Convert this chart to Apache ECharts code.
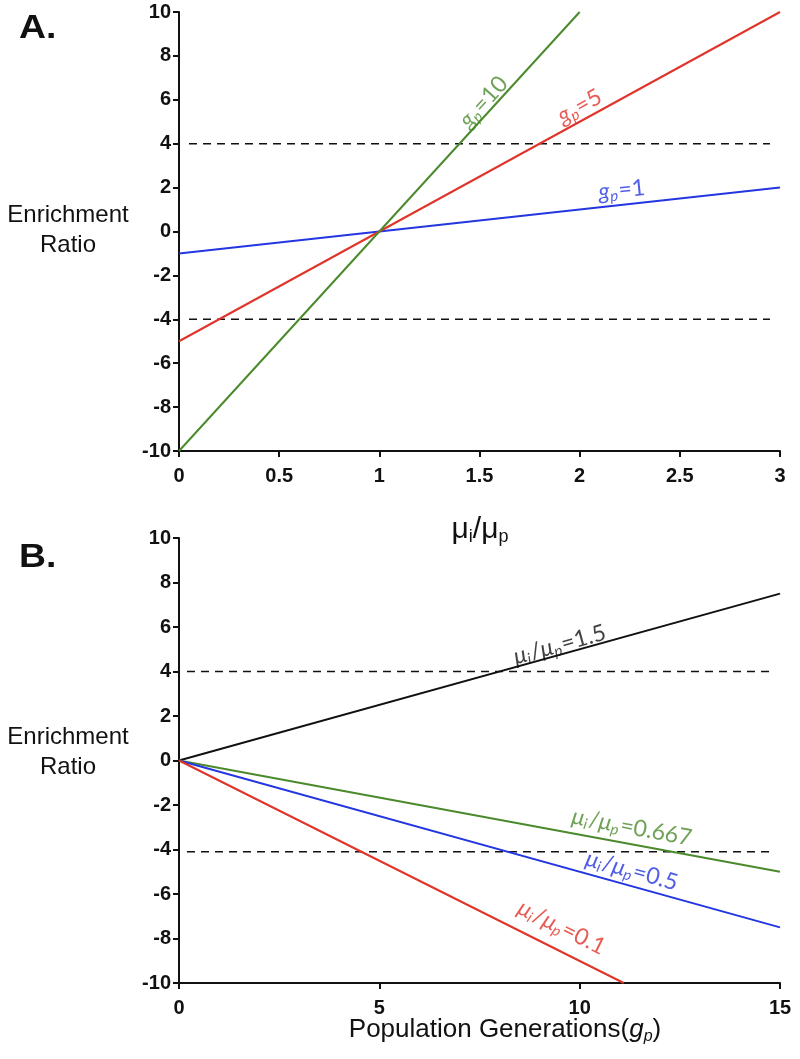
<!DOCTYPE html>
<html>
<head>
<meta charset="utf-8">
<script src="https://cdn.jsdelivr.net/npm/echarts@6/dist/echarts.min.js"></script>
<style>html,body{margin:0;padding:0;background:#fff}#c{width:800px;height:1059px}</style>
</head>
<body>
<div id="c"></div>
<script>
// ---- Panel A data: x = mu_i/mu_p, y = enrichment ratio ----
const xTicksA = [0, 0.5, 1, 1.5, 2, 2.5, 3];
const yTicks = [-10, -8, -6, -4, -2, 0, 2, 4, 6, 8, 10];
const seriesA_g1 = [[0, -1], [3, 2]];
const seriesA_g5 = [[0, -5], [3, 10]];
const seriesA_g10 = [[0, -10], [2, 10]];
const dashA_upper = [[0.05, 4], [2.95, 4]];
const dashA_lower = [[0.05, -4], [2.95, -4]];
const labelsA = ['g_p=1', 'g_p=5', 'g_p=10'];
const labelAnchorA = [[2.21, 1.9], [2.0, 5.7], [1.52, 5.9]];

// ---- Panel B data: x = population generations, y = enrichment ratio ----
const xTicksB = [0, 5, 10, 15];
const seriesB_r15 = [[0, 0], [15, 7.5]];
const seriesB_r0667 = [[0, 0], [15, -5]];
const seriesB_r05 = [[0, 0], [15, -7.5]];
const seriesB_r01 = [[0, 0], [11.1, -10]];
const dashB_upper = [[0.2, 4], [14.8, 4]];
const dashB_lower = [[0.2, -4.1], [14.8, -4.1]];
const labelsB = ['1.5', '0.667', '0.5', '0.1'];
const labelAnchorB = [[9.5, 5.2], [11.3, -3.0], [11.3, -4.95], [9.55, -7.5]];

const GREEN = '#4b8a2c', RED = '#e0342a', BLUE = '#2436e0', BLACK = '#111';
const tickFont = {fontFamily: '"Liberation Sans", Arial', fontWeight: 'bold', fontSize: 20, color: '#111'};
const labFont = 'Lato, "Open Sans", sans-serif';

function gLabel(t) {
  const val = t.split('=')[1];
  return '{g|g}{s|p}{n|=' + val + '}';
}
function muLabel(v) {
  return '{m|μ}{s|i}{n|/}{m|μ}{s|p}{n|=' + v + '}';
}
function richFor(color, size) {
  return {
    g: {fontFamily: labFont, fontSize: size, color: color, fontStyle: 'italic'},
    m: {fontFamily: labFont, fontSize: size, color: color, fontStyle: 'italic'},
    n: {fontFamily: labFont, fontSize: size, color: color},
    s: {fontFamily: labFont, fontSize: Math.round(size * 0.65), color: color, fontStyle: 'italic', padding: [11, 1, 0, 0]}
  };
}

function lineSeries(data, color, xi, yi, dashed) {
  return {
    type: 'line', data: data, xAxisIndex: xi, yAxisIndex: yi,
    symbol: 'none', silent: true, animation: false,
    lineStyle: {color: color, width: dashed ? 1.6 : 2, type: dashed ? [8, 6] : 'solid'}
  };
}
function labelSeries(pt, text, color, rot, xi, yi, size) {
  return {
    type: 'scatter', data: [pt], xAxisIndex: xi, yAxisIndex: yi,
    symbolSize: 0, silent: true, animation: false,
    label: {show: true, position: 'inside', rotate: rot, formatter: text, rich: richFor(color, size)}
  };
}

function xAxisCfg(gi, max, interval) {
  return {
    type: 'value', gridIndex: gi, min: 0, max: max, interval: interval,
    axisLine: {onZero: false, lineStyle: {color: '#111', width: 2}},
    axisTick: {show: true, length: 6, lineStyle: {color: '#111', width: 2}},
    axisLabel: Object.assign({margin: 15}, tickFont),
    splitLine: {show: false}
  };
}
function yAxisCfg(gi) {
  return {
    type: 'value', gridIndex: gi, min: -10, max: 10, interval: 2,
    axisLine: {onZero: false, lineStyle: {color: '#111', width: 2}},
    axisTick: {show: true, length: 6, lineStyle: {color: '#111', width: 2}},
    axisLabel: Object.assign({margin: 8}, tickFont),
    splitLine: {show: false}
  };
}

function nameText(x, y, text, size) {
  return {type: 'text', x: x, y: y, style: {text: text, font: size + 'px "Liberation Sans", Arial', fill: '#111', align: 'center', verticalAlign: 'middle', lineHeight: 30}};
}

const chart = echarts.init(document.getElementById('c'), null, {renderer: 'canvas'});
const option = {
  backgroundColor: '#fff',
  animation: false,
  grid: [
    {left: 179, right: 20, top: 12, height: 439},
    {left: 179, right: 20, top: 538, height: 445}
  ],
  xAxis: [xAxisCfg(0, 3, 0.5), xAxisCfg(1, 15, 5)],
  yAxis: [yAxisCfg(0), yAxisCfg(1)],
  graphic: [
    {type: 'text', left: 19, top: 12, scaleX: 1.1, style: {text: 'A.', font: 'bold 34px "Liberation Sans", Arial', fill: '#111'}},
    {type: 'text', left: 19, top: 541, scaleX: 1.1, style: {text: 'B.', font: 'bold 34px "Liberation Sans", Arial', fill: '#111'}},
    nameText(68, 230, 'Enrichment\nRatio', 24),
    nameText(68, 752, 'Enrichment\nRatio', 24),
    {type: 'text', x: 480, y: 530, style: {
      text: '{a|μ}{s|i}{a|/μ}{s|p}', align: 'center', verticalAlign: 'middle',
      rich: {a: {fontFamily: 'Liberation Sans, Arial', fontSize: 30, fill: '#111'}, s: {fontFamily: 'Liberation Sans, Arial', fontSize: 18, fill: '#111', padding: [14, 0, 0, 0]}}
    }},
    {type: 'text', x: 505, y: 1030, style: {
      text: '{a|Population Generations(}{i|g}{s|p}{a|)}', align: 'center', verticalAlign: 'middle',
      rich: {a: {fontFamily: 'Liberation Sans, Arial', fontSize: 26, fill: '#111'}, i: {fontFamily: 'Liberation Sans, Arial', fontSize: 26, fontStyle: 'italic', fill: '#111'}, s: {fontFamily: 'Liberation Sans, Arial', fontSize: 16, fontStyle: 'italic', fill: '#111', padding: [13, 0, 0, 0]}}
    }}
  ],
  series: [
    lineSeries(dashA_upper, BLACK, 0, 0, true),
    lineSeries(dashA_lower, BLACK, 0, 0, true),
    lineSeries(seriesA_g1, BLUE, 0, 0),
    lineSeries(seriesA_g5, RED, 0, 0),
    lineSeries(seriesA_g10, GREEN, 0, 0),
    labelSeries(labelAnchorA[0], gLabel(labelsA[0]), BLUE, 6, 0, 0, 23),
    labelSeries(labelAnchorA[1], gLabel(labelsA[1]), RED, 29, 0, 0, 23),
    labelSeries(labelAnchorA[2], gLabel(labelsA[2]), GREEN, 48, 0, 0, 23),
    lineSeries(dashB_upper, BLACK, 1, 1, true),
    lineSeries(dashB_lower, BLACK, 1, 1, true),
    lineSeries(seriesB_r15, BLACK, 1, 1),
    lineSeries(seriesB_r0667, GREEN, 1, 1),
    lineSeries(seriesB_r05, BLUE, 1, 1),
    lineSeries(seriesB_r01, RED, 1, 1),
    labelSeries(labelAnchorB[0], muLabel(labelsB[0]), BLACK, 15.5, 1, 1, 23),
    labelSeries(labelAnchorB[1], muLabel(labelsB[1]), GREEN, -10.5, 1, 1, 23),
    labelSeries(labelAnchorB[2], muLabel(labelsB[2]), BLUE, -15.5, 1, 1, 23),
    labelSeries(labelAnchorB[3], muLabel(labelsB[3]), RED, -26.5, 1, 1, 23)
  ]
};
chart.setOption(option);
</script>
</body>
</html>
